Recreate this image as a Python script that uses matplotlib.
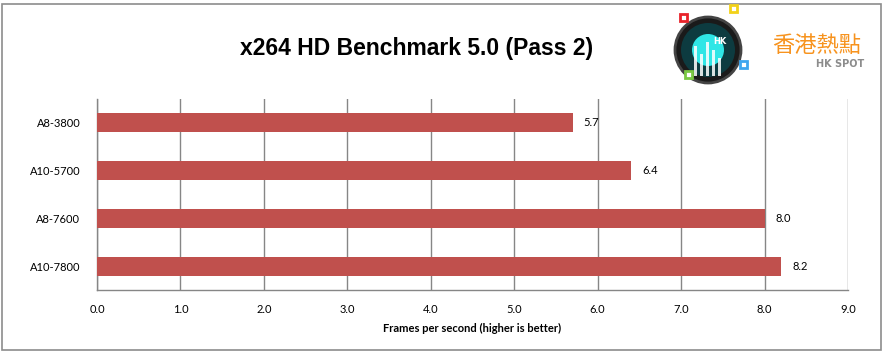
import matplotlib.pyplot as plt
from matplotlib.patches import Ellipse, Rectangle

# chart data
cpus = ['A8-3800', 'A10-5700', 'A8-7600', 'A10-7800']
fps = [5.7, 6.4, 8.0, 8.2]
x_ticks = [0, 1, 2, 3, 4, 5, 6, 7, 8, 9]

BAR_COLOR = '#C0504D'
GRID_COLOR = '#868686'
TICK_FONT = ['Lato', 'DejaVu Sans']
W, H = 885, 355

fig = plt.figure(figsize=(8.85, 3.55), dpi=100)

# outer frame of the chart
fig.patches.append(Rectangle((2 / W, 5 / H), 879 / W, 346 / H,
                             transform=fig.transFigure, fill=False,
                             edgecolor='#8c8c8c', linewidth=1.2))

ax = fig.add_axes([97 / W, 1 - 290 / H, 751 / W, 191 / H])

pos = list(range(len(cpus)))
ax.barh(pos, fps, height=0.4, color=BAR_COLOR, zorder=3)
ax.set_ylim(len(cpus) - 0.5, -0.5)
ax.set_xlim(0, 9)
ax.set_xticks(x_ticks)
ax.set_xticklabels([f'{v:.1f}' for v in x_ticks], family=TICK_FONT, fontsize=8)
ax.set_yticks(pos)
ax.set_yticklabels(cpus, family=TICK_FONT, fontsize=8)
ax.tick_params(axis='both', length=0)
ax.tick_params(axis='x', pad=10)
ax.tick_params(axis='y', pad=12)
ax.grid(axis='x', color=GRID_COLOR, linewidth=1, zorder=0)

for side in ['top', 'right']:
    ax.spines[side].set_visible(False)
for side in ['left', 'bottom']:
    ax.spines[side].set_color(GRID_COLOR)
    ax.spines[side].set_linewidth(1)

for i, v in enumerate(fps):
    ax.annotate(f'{v:.1f}', (v, i), xytext=(8, 0), textcoords='offset points',
                va='center', ha='left', fontsize=8, family=TICK_FONT)

ax.set_xlabel('Frames per second (higher is better)', fontsize=8,
              fontweight='bold', family=TICK_FONT, labelpad=6)

fig.text(417 / W, 1 - 48 / H, 'x264 HD Benchmark 5.0 (Pass 2)',
         ha='center', va='center', fontsize=16.5, fontweight='bold',
         family=['Liberation Sans Narrow', 'Liberation Sans', 'DejaVu Sans'])

# watermark logo (rough)
lx, ly = 708, 50


def circ(r, **kw):
    fig.patches.append(Ellipse((lx / W, 1 - ly / H), 2 * r / W, 2 * r / H,
                               transform=fig.transFigure, **kw))


circ(33, facecolor='#1a1a1a', edgecolor='#444444', linewidth=2)
circ(27, facecolor='#0d3b40', edgecolor='none')
circ(16, facecolor='#2fe6e6', edgecolor='none')
for k, bh in enumerate([30, 22, 34, 26, 18]):
    fig.patches.append(Rectangle(((lx - 14 + k * 6) / W, 1 - (ly + 26) / H), 3 / W, bh / H,
                                 transform=fig.transFigure, facecolor='white',
                                 edgecolor='none', alpha=0.85))
fig.text((lx + 12) / W, 1 - (ly - 8) / H, 'HK', ha='center', va='center', fontsize=6,
         fontweight='bold', color='white')
for (sx, sy, c) in [(680, 21, '#e8232a'), (730, 12, '#f2d21a'),
                    (740, 68, '#3fa6ef'), (685, 78, '#7ac943')]:
    fig.patches.append(Rectangle((sx / W, 1 - sy / H), 7 / W, 7 / H,
                                 transform=fig.transFigure, facecolor='white',
                                 edgecolor=c, linewidth=2))
fig.text(817 / W, 1 - 45 / H, '香港熱點', ha='center', va='center', fontsize=16,
         color='#f7931e', family=['Noto Sans CJK TC', 'DejaVu Sans'])
fig.text(840 / W, 1 - 64 / H, 'HK SPOT', ha='center', va='center', fontsize=7,
         fontweight='bold', color='#8c8c8c')

fig.savefig('out.png', dpi=100)
